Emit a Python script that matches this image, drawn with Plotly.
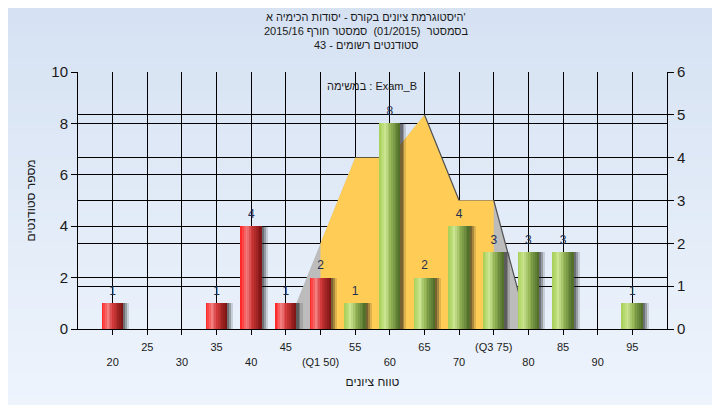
import plotly.graph_objects as go

# ---------------- data ----------------
categories = [20, 25, 30, 35, 40, 45, 50, 55, 60, 65, 70, 75, 80, 85, 90, 95]
counts = [1, 0, 0, 1, 4, 1, 2, 1, 8, 2, 4, 3, 3, 3, 0, 1]
tick_labels = ["20", "25", "30", "35", "40", "45", "(Q1 50)", "55", "60", "65",
               "70", "(Q3 75)", "80", "85", "90", "95"]
q1 = 50
q3 = 75
dist_x = [45, 50, 55, 60, 65, 70, 75, 80]
dist_y = [0, 2, 4, 4, 5, 3, 3, 0]

title_lines = [
    "היסטוגרמת ציונים בקורס - יסודות הכימיה א'",
    "בסמסטר  (01/2015)  סמסטר חורף 2015/16",
    "סטודנטים רשומים - 43",
]
task_label = "במשימה : Exam_B"
x_title = "טווח ציונים"
y_title = "מספר סטודנטים"

# ---------------- style helpers ----------------
def hex2rgb(h):
    h = h.lstrip('#')
    return tuple(int(h[i:i + 2], 16) for i in (0, 2, 4))

def grad(stops, t):
    for (t0, c0), (t1, c1) in zip(stops, stops[1:]):
        if t0 <= t <= t1:
            f = (t - t0) / (t1 - t0) if t1 > t0 else 0
            a, b = hex2rgb(c0), hex2rgb(c1)
            return 'rgb(%d,%d,%d)' % tuple(round(a[k] + (b[k] - a[k]) * f) for k in range(3))
    return stops[-1][1]

red_stops = [(0, '#ff1c1c'), (0.3, '#f28080'), (0.55, '#cf3838'), (1, '#7a1212')]
green_stops = [(0, '#a3ce52'), (0.3, '#cbe592'), (0.55, '#96b658'), (1, '#4d6a27')]

BAR_W = 3.0
N_STRIPS = 12
strip_w = BAR_W / N_STRIPS

fig = go.Figure()

# distribution area (primary y, drawn beneath the bars)
fig.add_trace(go.Scatter(x=dist_x, y=dist_y, mode='lines', fill='tozeroy',
                         fillcolor='#bcbcbc', line=dict(width=0), yaxis='y',
                         hoverinfo='skip', showlegend=False))
i0, i1 = dist_x.index(q1), dist_x.index(q3)
fig.add_trace(go.Scatter(x=dist_x[i0:i1 + 1], y=dist_y[i0:i1 + 1], mode='lines',
                         fill='tozeroy', fillcolor='#ffcc55', line=dict(width=0),
                         yaxis='y', hoverinfo='skip', showlegend=False))
pk = dist_y.index(max(dist_y))
fig.add_trace(go.Scatter(x=dist_x[pk:pk + 2], y=dist_y[pk:pk + 2], mode='lines',
                         line=dict(color='#505050', width=1.2), yaxis='y',
                         hoverinfo='skip', showlegend=False))
fig.add_trace(go.Scatter(x=dist_x[i1:], y=dist_y[i1:], mode='lines',
                         line=dict(color='#505050', width=1.2), yaxis='y',
                         hoverinfo='skip', showlegend=False))

# bar shadows
for off, alpha in [(0.9, 0.15), (0.6, 0.28), (0.35, 0.35)]:
    fig.add_trace(go.Bar(x=categories, y=counts, width=BAR_W, offset=-BAR_W / 2 + off,
                         marker=dict(color='rgba(30,30,30,%.2f)' % alpha, line=dict(width=0)),
                         yaxis='y2', hoverinfo='skip', showlegend=False))

# cylinder-like bars built from vertical strips
for i in range(N_STRIPS):
    t = (i + 0.5) / N_STRIPS
    cols = [grad(red_stops, t) if c <= q1 else grad(green_stops, t) for c in categories]
    fig.add_trace(go.Bar(x=categories, y=counts, width=strip_w * 1.05,
                         offset=-BAR_W / 2 + i * strip_w,
                         marker=dict(color=cols, line=dict(width=0)),
                         yaxis='y2', hoverinfo='skip', showlegend=False))

# value labels
fig.add_trace(go.Scatter(x=categories, y=counts, mode='markers+text',
                         text=[str(v) if v else '' for v in counts],
                         textposition='top center',
                         marker=dict(size=7, color='rgba(0,0,0,0)'),
                         textfont=dict(family='Liberation Sans, Arial', size=12, color='#1f2f4f'),
                         yaxis='y2', hoverinfo='skip', showlegend=False))

# staggered tick labels
ticktext = [("<br>" + t) if k % 2 == 0 else t for k, t in enumerate(tick_labels)]

# page offset compensation (browser body margin)
OFF = 8
ML, MT = 78 - OFF, 72 - OFF
PW, PH = 589, 257
W, H = 720, 405

def px_to_paper_x(px):
    return (px - OFF - ML) / PW

def px_to_paper_y(py):
    return (MT + PH - (py - OFF)) / PH

# background gradient
shapes = []
N_BG = 40
for k in range(N_BG):
    t = k / (N_BG - 1)
    shapes.append(dict(type='rect', xref='paper', yref='paper', layer='below',
                       x0=-0.2, x1=1.2,
                       y0=1.3 - (k + 1) * (1.7 / N_BG), y1=1.3 - k * (1.7 / N_BG) + 0.01,
                       fillcolor=grad([(0, '#d5e1f2'), (1, '#eff5fd')], t),
                       line=dict(width=0)))

font_main = 'Liberation Sans, Arial, sans-serif'
annotations = []
for j, line in enumerate(title_lines):
    py = 17 + j * 14
    annotations.append(dict(text=line, x=px_to_paper_x(366), xref='paper', y=px_to_paper_y(py),
                            yref='paper', xanchor='center', yanchor='middle', showarrow=False,
                            font=dict(family=font_main, size=11, color='#1a1a1a')))
annotations.append(dict(text=task_label, x=px_to_paper_x(372), xref='paper', y=px_to_paper_y(86),
                        yref='paper', xanchor='center', yanchor='middle', showarrow=False,
                        font=dict(family=font_main, size=11, color='#1a1a1a')))

fig.update_layout(
    width=W, height=H,
    margin=dict(l=ML, r=W - ML - PW, t=MT, b=H - MT - PH, autoexpand=False),
    paper_bgcolor='#e6eef9',
    plot_bgcolor='#b4b4b4',
    barmode='overlay',
    bargap=0,
    showlegend=False,
    shapes=shapes,
    annotations=annotations,
    font=dict(family=font_main, color='#1a1a1a'),
    xaxis=dict(range=[15, 100], tickmode='array', tickvals=categories, ticktext=ticktext,
               automargin=False,
               showgrid=True, gridcolor='#000000', gridwidth=1, zeroline=False,
               showline=True, linecolor='#000000', linewidth=1,
               ticks='outside', ticklen=5, tickcolor='#000000', ticklabelstandoff=3,
               tickfont=dict(family=font_main, size=11, color='#1a1a1a'),
               title=dict(text=x_title, font=dict(family=font_main, size=12, color='#1a1a1a'),
                          standoff=11)),
    yaxis=dict(range=[0, 6], side='right', dtick=1, showgrid=True, gridcolor='#000000',
               automargin=False,
               gridwidth=1, zeroline=False, showline=True, linecolor='#000000',
               ticks='outside', ticklen=6, tickcolor='#000000',
               tickfont=dict(family=font_main, size=15, color='#1a1a1a')),
    yaxis2=dict(range=[0, 10], side='left', overlaying='y', dtick=2, showgrid=True,
                automargin=False,
                gridcolor='#000000', gridwidth=1, zeroline=False, showline=True,
                linecolor='#000000', ticks='outside', ticklen=6, tickcolor='#000000',
                tickfont=dict(family=font_main, size=15, color='#1a1a1a'),
                title=dict(text=y_title, font=dict(family=font_main, size=12, color='#1a1a1a'),
                           standoff=13)),
)

fig.write_html("out.html")
